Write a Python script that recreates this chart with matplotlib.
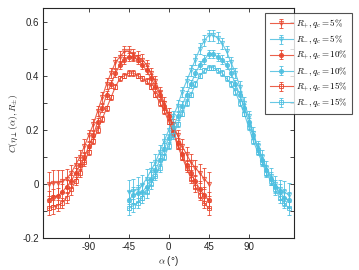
import numpy as np
import matplotlib
matplotlib.use("Agg")
import matplotlib.pyplot as plt
from matplotlib.ticker import FixedLocator, FuncFormatter

plt.rcParams['mathtext.fontset'] = 'cm'
plt.rcParams['font.family'] = ['Liberation Sans', 'DejaVu Sans']

# angles (deg)
alpha_plus = np.arange(-135, 46, 5)
alpha_minus = np.arange(-45, 136, 5)

# R+ curves
rp_5 = [0.00, 0.005, 0.005, 0.01, 0.02, 0.04, 0.07, 0.10, 0.14, 0.18, 0.22, 0.27, 0.32,
        0.37, 0.41, 0.45, 0.47, 0.49, 0.49, 0.48, 0.47, 0.46, 0.44, 0.41, 0.38, 0.34,
        0.30, 0.26, 0.22, 0.18, 0.14, 0.11, 0.08, 0.06, 0.04, 0.02, 0.00]
rp_10 = [-0.06, -0.048, -0.045, -0.03, -0.01, 0.01, 0.04, 0.07, 0.10, 0.14, 0.18, 0.23,
         0.28, 0.33, 0.37, 0.41, 0.44, 0.46, 0.47, 0.47, 0.46, 0.44, 0.42, 0.39, 0.36,
         0.33, 0.29, 0.25, 0.20, 0.15, 0.11, 0.07, 0.04, 0.01, -0.02, -0.04, -0.06]
rp_15 = [-0.09, -0.085, -0.08, -0.07, -0.05, -0.02, 0.01, 0.04, 0.08, 0.12, 0.16, 0.20,
         0.24, 0.28, 0.32, 0.36, 0.39, 0.40, 0.41, 0.41, 0.40, 0.39, 0.38, 0.36, 0.33,
         0.30, 0.27, 0.23, 0.19, 0.14, 0.10, 0.06, 0.02, -0.01, -0.04, -0.07, -0.09]

# R- curves
rm_5 = [-0.03, -0.025, -0.02, -0.005, 0.02, 0.05, 0.08, 0.12, 0.16, 0.20, 0.25, 0.29,
        0.34, 0.38, 0.42, 0.46, 0.50, 0.53, 0.55, 0.55, 0.54, 0.52, 0.49, 0.45, 0.41,
        0.36, 0.30, 0.25, 0.19, 0.14, 0.10, 0.06, 0.03, 0.00, -0.02, -0.03, -0.04]
rm_10 = [-0.06, -0.04, -0.035, -0.03, -0.01, 0.02, 0.05, 0.09, 0.13, 0.17, 0.21, 0.25,
         0.29, 0.33, 0.37, 0.41, 0.44, 0.46, 0.48, 0.48, 0.47, 0.46, 0.44, 0.41, 0.37,
         0.33, 0.28, 0.23, 0.18, 0.13, 0.09, 0.05, 0.02, -0.01, -0.03, -0.05, -0.06]
rm_15 = [-0.09, -0.08, -0.07, -0.05, -0.03, 0.00, 0.03, 0.06, 0.10, 0.14, 0.18, 0.22,
         0.26, 0.30, 0.33, 0.37, 0.40, 0.42, 0.43, 0.43, 0.42, 0.41, 0.39, 0.37, 0.34,
         0.30, 0.26, 0.21, 0.16, 0.12, 0.08, 0.04, 0.01, -0.02, -0.05, -0.07, -0.09]

# error bars (same profile for each series: larger at the ends)
err_5 = [0.045, 0.045, 0.045, 0.04, 0.035, 0.03, 0.03, 0.025, 0.025, 0.02, 0.02, 0.02,
         0.02, 0.02, 0.02, 0.02, 0.02, 0.02, 0.02, 0.02, 0.02, 0.02, 0.02, 0.02, 0.02,
         0.02, 0.02, 0.02, 0.02, 0.02, 0.025, 0.025, 0.03, 0.03, 0.035, 0.04, 0.045]
err_10 = [0.035, 0.03, 0.03, 0.03, 0.025, 0.025, 0.02, 0.02, 0.02, 0.015, 0.015, 0.015,
          0.015, 0.015, 0.015, 0.015, 0.015, 0.015, 0.015, 0.015, 0.015, 0.015, 0.015,
          0.015, 0.015, 0.015, 0.015, 0.015, 0.015, 0.02, 0.02, 0.02, 0.025, 0.025,
          0.03, 0.03, 0.03]
err_15 = [0.025, 0.025, 0.02, 0.02, 0.02, 0.02, 0.015, 0.015, 0.012, 0.012, 0.012, 0.01,
          0.01, 0.01, 0.01, 0.01, 0.01, 0.01, 0.01, 0.01, 0.01, 0.01, 0.01, 0.01, 0.01,
          0.01, 0.01, 0.01, 0.012, 0.012, 0.012, 0.015, 0.015, 0.02, 0.02, 0.02, 0.025]

red = '#e8452c'
blue = '#4dbfe0'
series = [
    (alpha_plus, rp_5, err_5, red, 'v', 'none', r'$R_{+}, q_c = 5\%$'),
    (alpha_minus, rm_5, err_5, blue, 'v', 'none', r'$R_{-}, q_c = 5\%$'),
    (alpha_plus, rp_10, err_10, red, 'o', red, r'$R_{+}, q_c = 10\%$'),
    (alpha_minus, rm_10, err_10, blue, 'o', blue, r'$R_{-}, q_c = 10\%$'),
    (alpha_plus, rp_15, err_15, red, 's', 'none', r'$R_{+}, q_c = 15\%$'),
    (alpha_minus, rm_15, err_15, blue, 's', 'none', r'$R_{-}, q_c = 15\%$'),
]

fig = plt.figure(figsize=(3.59, 2.70), dpi=100)
ax = fig.add_axes([0.12, 0.118, 0.699, 0.852])

for x, y, e, c, m, fc, lab in series:
    ax.errorbar(x, y, yerr=e, color=c, marker=m, markersize=3, mfc=fc, mec=c,
                mew=0.7, lw=0.8, elinewidth=0.7, capsize=1.5, capthick=0.7,
                alpha=0.85, label=lab)

ax.set_xlim(-141.5, 141)
ax.set_ylim(-0.2, 0.65)
ax.xaxis.set_major_locator(FixedLocator([-90, -45, 0, 45, 90]))
ax.yaxis.set_major_locator(FixedLocator(np.round(np.arange(-0.2, 0.61, 0.1), 1)))


def yfmt(v, pos):
    r = round(v * 10)
    if r % 2:
        return ''
    if r == 0:
        return '0'
    return '%g' % (r / 10)


ax.yaxis.set_major_formatter(FuncFormatter(yfmt))
ax.xaxis.set_major_formatter(FuncFormatter(lambda v, p: '%d' % v))
ax.tick_params(direction='in', length=3, width=0.6, top=True, right=True,
               labelsize=7, colors='#262626', pad=3)
for s in ax.spines.values():
    s.set_linewidth(0.8)
    s.set_color('#262626')

ax.set_xlabel(r'$\alpha$ (°)', fontsize=7, color='#262626', labelpad=1)
ax.set_ylabel(r'$C(\eta_{\perp}(\alpha), R_{\pm})$', fontsize=7, color='#262626',
              labelpad=2)

leg = fig.legend(loc='upper right', bbox_to_anchor=(0.981, 0.952), fontsize=6.5,
                 frameon=True, fancybox=False, edgecolor='#262626',
                 borderaxespad=0, handlelength=2.6, handletextpad=0.3,
                 borderpad=0.5, labelspacing=0.3)
leg.get_frame().set_linewidth(0.8)

fig.savefig('out.png', dpi=100)
